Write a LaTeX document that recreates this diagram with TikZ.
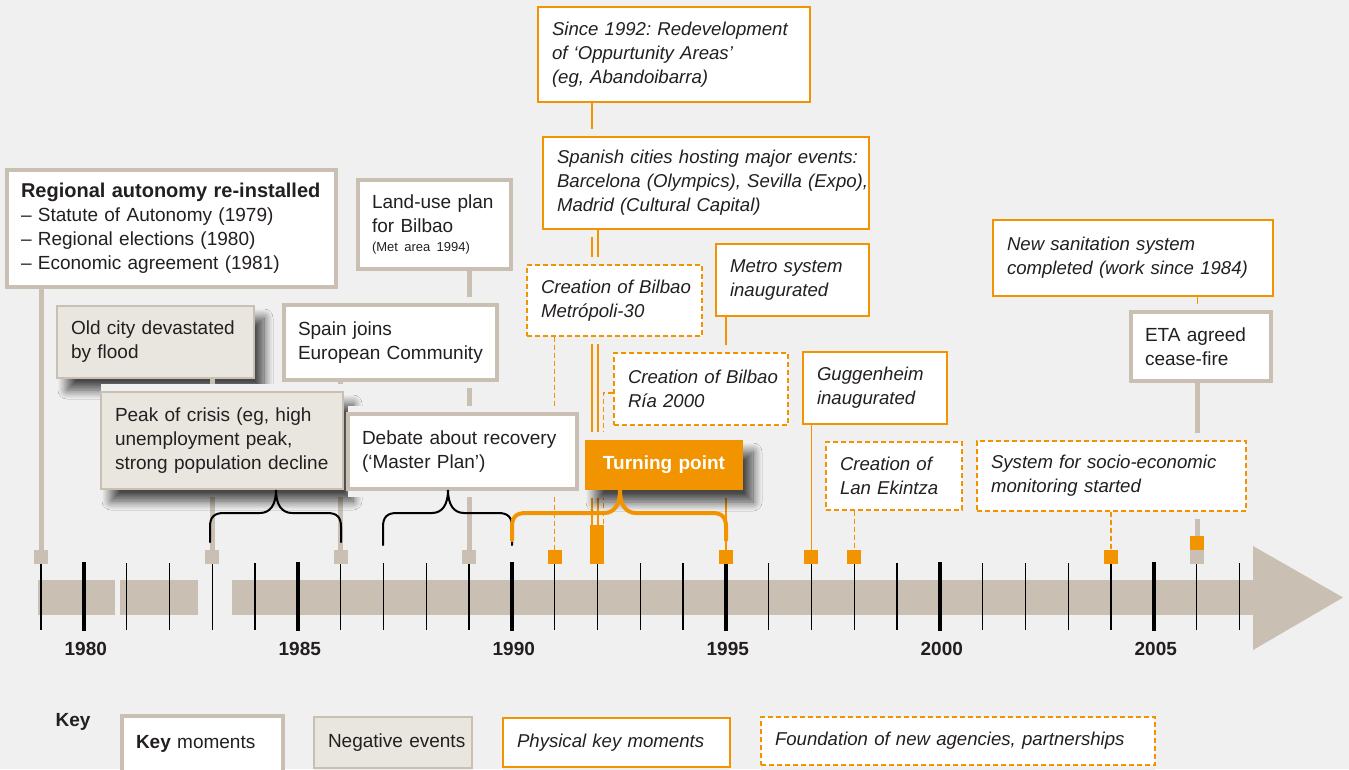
\documentclass[tikz,border=0pt]{standalone}
\usepackage{fontspec}
\setmainfont{Liberation Sans}
\usetikzlibrary{shadows.blur}
\definecolor{bgc}{HTML}{EFF0EF}
\definecolor{gb}{HTML}{C9BFB3}
\definecolor{negf}{HTML}{E9E6E0}
\definecolor{org}{HTML}{F29400}
\definecolor{txt}{HTML}{231F20}
\newcommand\fn{\fontsize{19}{24}\selectfont}
\newcommand\fni{\fontsize{18.6}{24}\selectfont\itshape}
\newcommand\tlbox[7]{%
  \pgfmathsetmacro\tlW{#5-#3}%
  \pgfmathsetmacro\tlH{#6-#4}%
  \pgfmathsetmacro\tlT{#5-#3-28}%
  \fill[bgc] (#3,#4-8) rectangle (#5,#6+8);%
  \node[#2, minimum width=\tlW pt, minimum height=\tlH pt, text width=\tlT pt] (#1) at ({(#3+#5)/2},{(#4+#6)/2}) {#7};%
}
\newcommand\tlbrace[5]{%
  \draw[#1] (#2,#5) -- (#2,527) .. controls (#2,517) and ({#2+4},513) .. ({#2+14},513)
    -- ({#4-16},513) .. controls ({#4-6},513) and (#4,505) .. (#4,490)
    .. controls (#4,505) and ({#4+6},513) .. ({#4+16},513)
    -- ({#3-14},513) .. controls ({#3-4},513) and (#3,517) .. (#3,527) -- (#3,#5);%
}
\begin{document}
\begin{tikzpicture}[x=1pt, y=-1pt,
  base/.style={rectangle, inner xsep=14pt, inner ysep=0pt, align=left, font=\fn, text=txt,
    execute at begin node={\hyphenpenalty=10000\exhyphenpenalty=10000\hbadness=10000\hfuzz=60pt\relax}},
  keyb/.style={base, draw=gb, line width=4.5pt, fill=white},
  negb/.style={base, draw=gb, line width=1.5pt, fill=negf},
  shd/.style={blur shadow={shadow xshift=10pt, shadow yshift=-12pt, shadow blur radius=9pt, shadow blur steps=14, shadow opacity=70}},
  phys/.style={base, draw=org, line width=1.3pt, fill=white, font=\fni},
  agen/.style={phys, dash pattern=on 5pt off 3pt},
  tpb/.style={base, fill=org, align=center, text=white, font=\fn\bfseries, shd},
  gmk/.style={rectangle, fill=gb, minimum size=14pt, inner sep=0pt},
  omk/.style={gmk, fill=org},
  gcon/.style={draw=gb, line width=5pt},
  ocon/.style={draw=org, line width=1.4pt},
  dcon/.style={ocon, dash pattern=on 5pt off 3pt},
  tick/.style={draw=black, line width=1.1pt},
  btick/.style={draw=black, line width=3.5pt},
  yr/.style={font=\fn\bfseries, text=txt},
  brc/.style={draw=black, line width=2pt, line cap=round},
  obrc/.style={draw=org, line width=4pt, line cap=round}]
\useasboundingbox (0,0) rectangle (1349,769);
\fill[bgc] (0,0) rectangle (1349,769);

% timeline band
\fill[gb] (38,580) rectangle (115,615);
\fill[gb] (120,580) rectangle (198,615);
\fill[gb] (232,580) rectangle (1253,615);
\fill[gb] (1253,546) -- (1343,597.5) -- (1253,650) -- cycle;
\foreach \i in {0,...,28}{\draw[tick] ({41+\i*42.8},563) -- ({41+\i*42.8},630);}
\foreach \i in {1,6,11,16,21,26}{\draw[btick] ({41+\i*42.8},562) -- ({41+\i*42.8},631);}
\foreach \i/\yy in {1/1980,6/1985,11/1990,16/1995,21/2000,26/2005}{\node[yr] (y\yy) at ({43+\i*42.8},649) {\yy};}

% markers
\node[gmk] (m79) at (41,557) {};
\node[gmk] (m83) at (212.2,557) {};
\node[gmk] (m86) at (340.6,557) {};
\node[gmk] (m89) at (469,557) {};
\node[omk] (m91) at (554.6,557) {};
\node[omk, minimum width=14pt, minimum height=39pt] (r92) at (597.4,544.5) {};
\node[omk] (m95) at (725.8,557) {};
\node[omk] (m97) at (811.4,557) {};
\node[omk] (m98) at (854.2,557) {};
\node[omk] (m04) at (1111,557) {};
\node[gmk] (m06g) at (1197.4,557) {};
\node[omk] (m06o) at (1197.4,543) {};
\coordinate (l92a) at (592,0);
\coordinate (l92b) at (598,0);
\coordinate (l92c) at (603.5,0);

% boxes with their connectors
\tlbox{regional}{keyb}{7}{170}{336}{287}{{\fontsize{20}{24}\selectfont\bfseries Regional~autonomy~re-installed}\\–~Statute~of~Autonomy~(1979)\\–~Regional~elections~(1980)\\–~Economic~agreement~(1981)}
\draw[gcon] (regional.south -| m79) -- (m79.north);

\tlbox{since}{phys}{538}{7}{810}{102}{Since~1992:~Redevelopment\\of~‘Oppurtunity~Areas’\\(eg,~Abandoibarra)}
\draw[ocon] (since.south -| l92a) -- (r92.north -| l92a);

\tlbox{landuse}{keyb}{358}{180}{511}{269}{Land-use~plan\\for~Bilbao\\[-5pt]{\fontsize{13}{16}\selectfont(Met~area~1994)}}
\draw[gcon] (landuse.south -| m89) -- (m89.north);

\tlbox{spanish}{phys}{543}{137}{869}{229}{Spanish~cities~hosting~major~events:\\Barcelona~(Olympics),~Sevilla~(Expo),\\Madrid~(Cultural~Capital)}
\draw[ocon] (spanish.south -| l92b) -- (r92.north -| l92b);

\tlbox{metropoli}{agen}{527}{265}{702}{336}{Creation~of~Bilbao\\Metrópoli-30}
\draw[dcon] (metropoli.south -| m91) -- (m91.north);

\tlbox{metro}{phys}{716}{244}{869}{316}{Metro~system\\inaugurated}
\draw[ocon] (metro.south -| m95) -- (m95.north);

\tlbox{oldcity}{negb, shd}{57}{306}{254}{378}{Old~city~devastated\\by~flood}
\draw[gcon] (oldcity.south -| m83) -- (m83.north);

\tlbox{spain}{keyb}{284}{305}{497}{380}{Spain~joins\\European~Community}
\draw[gcon] (spain.south -| m86) -- (m86.north);

\tlbox{peak}{negb, shd}{101}{392}{343}{489}{Peak~of~crisis~(eg,~high\\unemployment~peak,\\strong~population~decline}

\tlbox{debate}{keyb}{348}{414}{577}{489}{Debate~about~recovery\\(‘Master~Plan’)}

\tlbox{ria}{agen}{614}{353}{788}{425}{Creation~of~Bilbao\\Ría~2000}
\draw[dcon] (ria.west |- 0,393) -| (r92.north -| l92c);

\tlbox{tp}{tpb}{585}{440}{743}{490}{Turning~point}

\tlbox{gugg}{phys}{803}{352}{947}{424}{Guggenheim\\inaugurated}
\draw[ocon] (gugg.south -| m97) -- (m97.north);

\tlbox{lan}{agen}{826}{442}{962}{510}{Creation~of\\Lan~Ekintza}
\draw[dcon] (lan.south -| m98) -- (m98.north);

\tlbox{sanit}{phys}{993}{220}{1273}{296}{New~sanitation~system\\completed~(work~since~1984)}
\draw[ocon] (sanit.south -| m06o) -- (m06o.north);

\tlbox{eta}{keyb}{1131}{312}{1271}{381}{ETA~agreed\\cease-fire}
\draw[gcon] (eta.south -| m06o) -- (m06o.north);

\tlbox{system}{agen}{977}{441}{1246}{511}{System~for~socio-economic\\monitoring~started}
\draw[dcon] (system.south -| m04) -- (m04.north);

% braces
\tlbrace{brc}{210}{341}{276}{542}
\tlbrace{brc}{383}{512}{448}{545}
\tlbrace{obrc}{512}{726}{620}{540}

% key
\node[font=\fn\bfseries, text=txt] (keylbl) at (73,722) {Key};
\tlbox{k1}{keyb}{122}{716}{283}{772}{{\bfseries Key}~moments}
\tlbox{k2}{negb}{314}{717}{472}{768}{Negative~events}
\tlbox{k3}{phys}{503}{718}{730}{767}{Physical~key~moments}
\tlbox{k4}{agen}{761}{717}{1155}{765}{Foundation~of~new~agencies,~partnerships}
\end{tikzpicture}
\end{document}
